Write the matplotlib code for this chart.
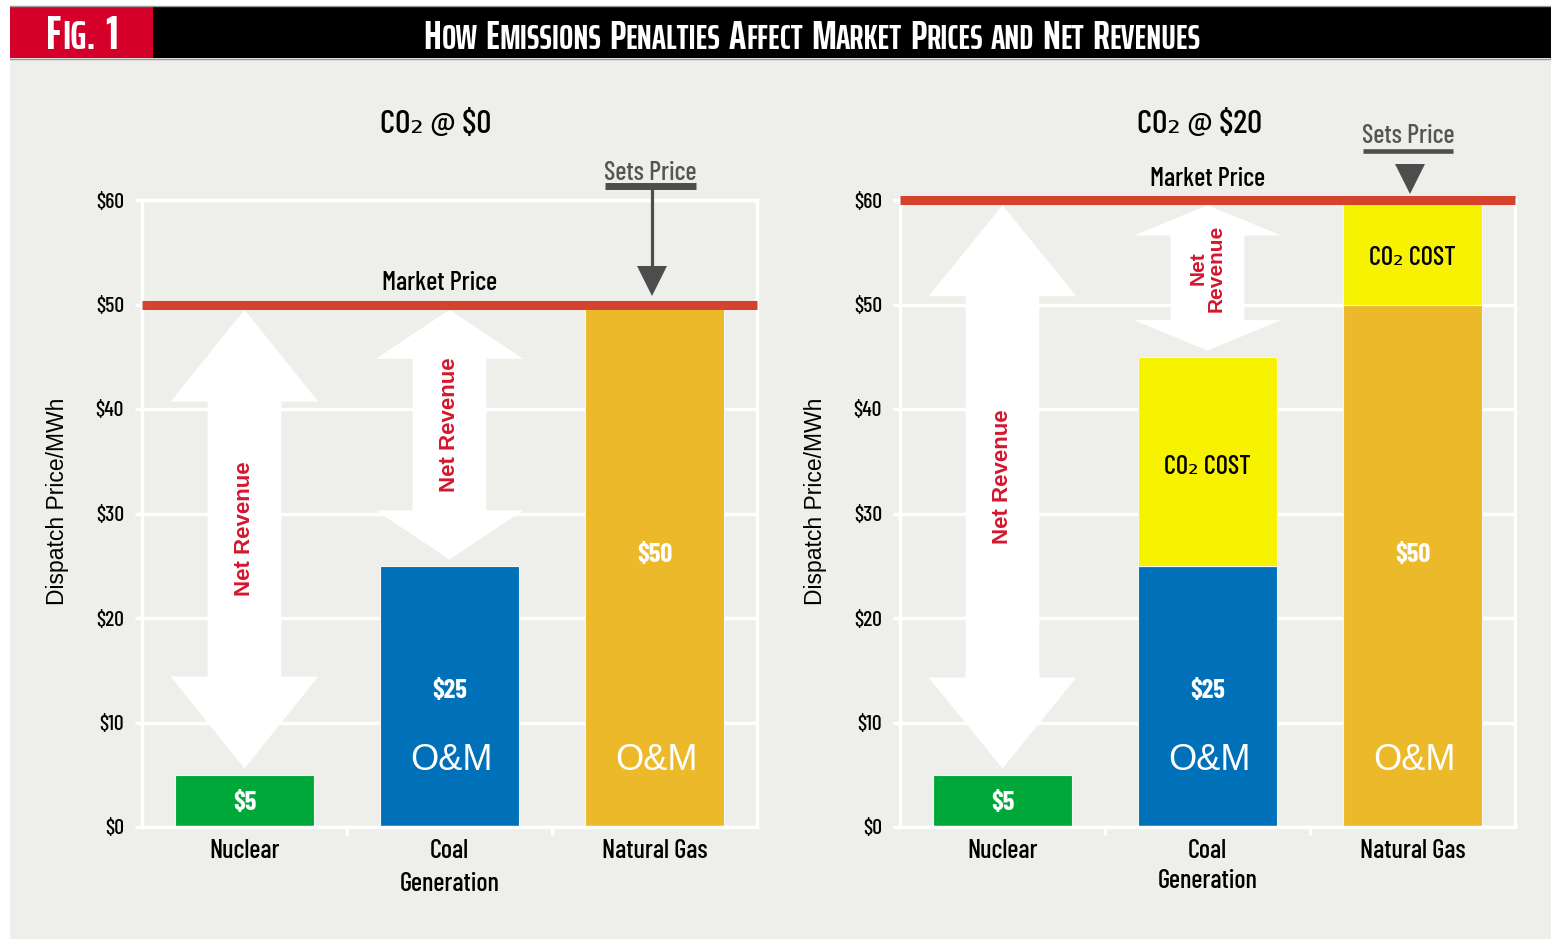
import matplotlib
matplotlib.use("Agg")
import matplotlib.pyplot as plt
from matplotlib.patches import Rectangle, Polygon
from matplotlib.lines import Line2D
from matplotlib.transforms import IdentityTransform

# ---------------- data ----------------
categories = ["Nuclear", "Coal\nGeneration", "Natural Gas"]
om_cost = [5, 25, 50]                 # $/MWh operating & maintenance cost
co2_cost_panel_a = [0, 0, 0]          # CO2 @ $0
co2_cost_panel_b = [0, 20, 10]        # CO2 @ $20
market_price_a = 50
market_price_b = 60
panel_titles = ["CO\u2082 @ $0", "CO\u2082 @ $20"]
yticks = [0, 10, 20, 30, 40, 50, 60]
ytick_labels = ["$0", "$10", "$20", "$30", "$40", "$50", "$60"]
fig_title = "How Emissions Penalties Affect Market Prices and Net Revenues"
fig_label = "Fig. 1"

# ---------------- style ----------------
W, H = 1551, 939
BG = "#eeeeea"
C_RED_BOX = "#d40029"
C_LINE = "#d5432c"
C_NUC = "#00a83a"
C_COAL = "#0070b8"
C_GAS = "#ecb92a"
C_CO2 = "#f7f300"
C_NETREV = "#d4172e"
C_ARROW = "#4d4d4d"
COND = ["Barlow Condensed", "DejaVu Sans"]
HEAD = ["Saira ExtraCondensed", "DejaVu Sans"]
SANS = ["Liberation Sans", "DejaVu Sans"]
MED = 500
bar_colors = [C_NUC, C_COAL, C_GAS]

fig = plt.figure(figsize=(W / 100, H / 100), dpi=100, facecolor="white")


def fx(px):
    return px / W


def fy(py):
    return 1 - py / H


# background panel and header
fig.patches.append(Rectangle((fx(10), 0), 1 - fx(10), fy(58), transform=fig.transFigure,
                             facecolor=BG, edgecolor="none", zorder=-5))
fig.patches.append(Rectangle((fx(153), fy(58)), 1 - fx(153), fy(6) - fy(58),
                             transform=fig.transFigure, facecolor="black",
                             edgecolor="none", zorder=-4))
fig.patches.append(Rectangle((fx(10), fy(58)), fx(153) - fx(10), fy(6) - fy(58),
                             transform=fig.transFigure, facecolor=C_RED_BOX,
                             edgecolor="none", zorder=-4))
for yy in (5.5, 58.5):
    fig.add_artist(Line2D([fx(10), 1], [fy(yy), fy(yy)], color="#9a9a9a", lw=1.0,
                          transform=fig.transFigure, zorder=-3))

renderer = fig.canvas.get_renderer()


def small_caps(x_px, y_base_px, s, big, small, target_w=None, **kw):
    runs = []
    for ch in s:
        if ch == " ":
            runs.append((" ", None))
            continue
        size = big if (ch.isupper() or ch.isdigit()) else small
        c = ch.upper()
        if runs and runs[-1][1] == size:
            runs[-1] = (runs[-1][0] + c, size)
        else:
            runs.append((c, size))

    def build(scale):
        texts, widths = [], []
        for txt, size in runs:
            if size is None:
                texts.append(None)
                widths.append(big * scale * 0.2 * 100 / 72)
                continue
            t = fig.text(0, 0, txt, fontsize=size * scale, transform=IdentityTransform(),
                         va="baseline", ha="left", zorder=5, **kw)
            widths.append(t.get_window_extent(renderer).width)
            texts.append(t)
        return texts, widths

    texts, widths = build(1.0)
    if target_w:
        scale = target_w / sum(widths)
        for t in texts:
            if t is not None:
                t.remove()
        texts, widths = build(scale)
    x = x_px - sum(widths) / 2
    for t, w in zip(texts, widths):
        if t is not None:
            t.set_position((x, H - y_base_px))
        x += w


small_caps(82, 49, fig_label, 30, 25, target_w=71, color="white", family=HEAD,
           fontweight="bold")
small_caps(812, 49, fig_title, 30, 25, target_w=775, color="white", family=HEAD,
           fontweight="bold")


def double_arrow(ax, x, y_bot, y_top, head_len, shaft_hw=0.18, head_hw=0.36):
    pts = [(x, y_top), (x + head_hw, y_top - head_len), (x + shaft_hw, y_top - head_len),
           (x + shaft_hw, y_bot + head_len), (x + head_hw, y_bot + head_len), (x, y_bot),
           (x - head_hw, y_bot + head_len), (x - shaft_hw, y_bot + head_len),
           (x - shaft_hw, y_top - head_len), (x - head_hw, y_top - head_len)]
    ax.add_patch(Polygon(pts, closed=True, facecolor="white", edgecolor="none", zorder=3))


panels = [
    dict(left=142, co2=co2_cost_panel_a, price=market_price_a, title=panel_titles[0],
         title_xy=(0.93, 67.2), mp_xy=(0.95, 52.1), sp_text_y=62.6, sp_ul_y=61.35,
         sp_ul_lw=5.0, sp_line=True, sp_tri_y=52.25, heads=[8.8, 4.7, 0], lsp=1.45),
    dict(left=900, co2=co2_cost_panel_b, price=market_price_b, title=panel_titles[1],
         title_xy=(0.96, 67.2), mp_xy=(1.0, 62.0), sp_text_y=66.1, sp_ul_y=64.7,
         sp_ul_lw=3.3, sp_line=False, sp_tri_y=62.0, heads=[8.7, 2.9, 0], lsp=1.28),
]

x = list(range(len(categories)))
for p in panels:
    ax = fig.add_axes([fx(p["left"]), fy(827), 615 / W, 627 / H])
    ax.set_zorder(1)
    ax.set_facecolor(BG)
    ax.set_xlim(-0.5, 2.5)
    ax.set_ylim(0, 60)
    for sp in ax.spines.values():
        sp.set_color("white")
        sp.set_linewidth(2.5)
    ax.set_axisbelow(True)
    ax.yaxis.grid(True, color="white", lw=2.5)
    ax.set_yticks(yticks)
    ax.set_yticklabels(ytick_labels, family=COND, fontsize=15.5, fontweight=MED,
                       color="black")
    ax.tick_params(axis="y", color="white", length=5, width=2.5, pad=8)
    ax.set_xticks(x)
    ax.set_xticklabels(categories, family=COND, fontsize=19, fontweight=MED,
                       color="black", linespacing=p["lsp"])
    ax.tick_params(axis="x", which="major", length=0, pad=9)
    ax.set_xticks([0.5, 1.5], minor=True)
    ax.tick_params(axis="x", which="minor", length=6, width=2.5, color="white")
    ax.set_ylabel("Dispatch Price/MWh", family=SANS, fontsize=16.5, color="black")
    ax.yaxis.set_label_coords(-0.118, 0.52)

    # bars
    ax.bar(x, om_cost, width=0.675, color=bar_colors, edgecolor="#f6f6f2", lw=0.8, zorder=2)
    tops = []
    for i in x:
        if p["co2"][i] > 0:
            ax.bar(i, p["co2"][i], bottom=om_cost[i], width=0.675, color=C_CO2,
                   edgecolor="#f6f6f2", lw=0.8, zorder=2)
            ax.text(i, om_cost[i] + p["co2"][i] / 2 - 0.55, "CO\u2082 COST", ha="center",
                    va="center", family=COND, fontsize=19, fontweight=MED,
                    color="black", zorder=4)
        tops.append(om_cost[i] + p["co2"][i])

    # value labels and O&M
    for i in x:
        yv = om_cost[i] * 0.46 if i == 0 else om_cost[i] * 0.52
        ax.text(i, yv, f"${om_cost[i]}", ha="center", va="center", family=COND,
                fontsize=19, fontweight="bold", color="white", zorder=4)
        if i > 0:
            ax.text(i + 0.01, 6.4, "O&M", ha="center", va="center", family=SANS,
                    fontsize=26, color="white", zorder=4)

    # net revenue arrows
    for i in x:
        if tops[i] < p["price"]:
            double_arrow(ax, i, tops[i] + 0.6, p["price"] - 0.5, p["heads"][i])
            mid = (tops[i] + p["price"]) / 2 + 1.0
            span = p["price"] - tops[i]
            label = "Net Revenue" if span > 20 else "Net\nRevenue"
            ax.text(i + 0.0, mid, label, rotation=90, ha="center", va="center",
                    family=SANS, fontsize=16 if span > 20 else 15, fontweight="bold",
                    color=C_NETREV, linespacing=0.95, zorder=4)

    # market price line
    ax.axhline(p["price"], color=C_LINE, lw=6.5, zorder=6, clip_on=False,
               solid_capstyle="butt")
    ax.text(p["mp_xy"][0], p["mp_xy"][1], "Market Price", ha="center", va="center",
            family=COND, fontsize=19, fontweight=MED, color="black")
    ax.text(p["title_xy"][0], p["title_xy"][1], p["title"], ha="center", va="center",
            family=COND, fontsize=24, fontweight=MED, color="black")

    # sets price marker
    gi = len(categories) - 1
    ax.text(gi - 0.02, p["sp_text_y"], "Sets Price", ha="center", va="center",
            family=COND, fontsize=19, fontweight=MED, color="#555555")
    ax.plot([gi - 0.24, gi + 0.2], [p["sp_ul_y"]] * 2, color=C_ARROW,
            lw=p["sp_ul_lw"], solid_capstyle="butt", clip_on=False, zorder=7)
    if p["sp_line"]:
        ax.plot([gi - 0.01, gi - 0.01], [p["sp_ul_y"], p["sp_tri_y"] + 1], color=C_ARROW,
                lw=2.3, clip_on=False, zorder=7)
    ax.plot([gi - 0.01], [p["sp_tri_y"]], marker="v", ms=21, color=C_ARROW,
            markeredgewidth=0, clip_on=False, zorder=7)

fig.savefig("out.png", dpi=100, facecolor="white")
